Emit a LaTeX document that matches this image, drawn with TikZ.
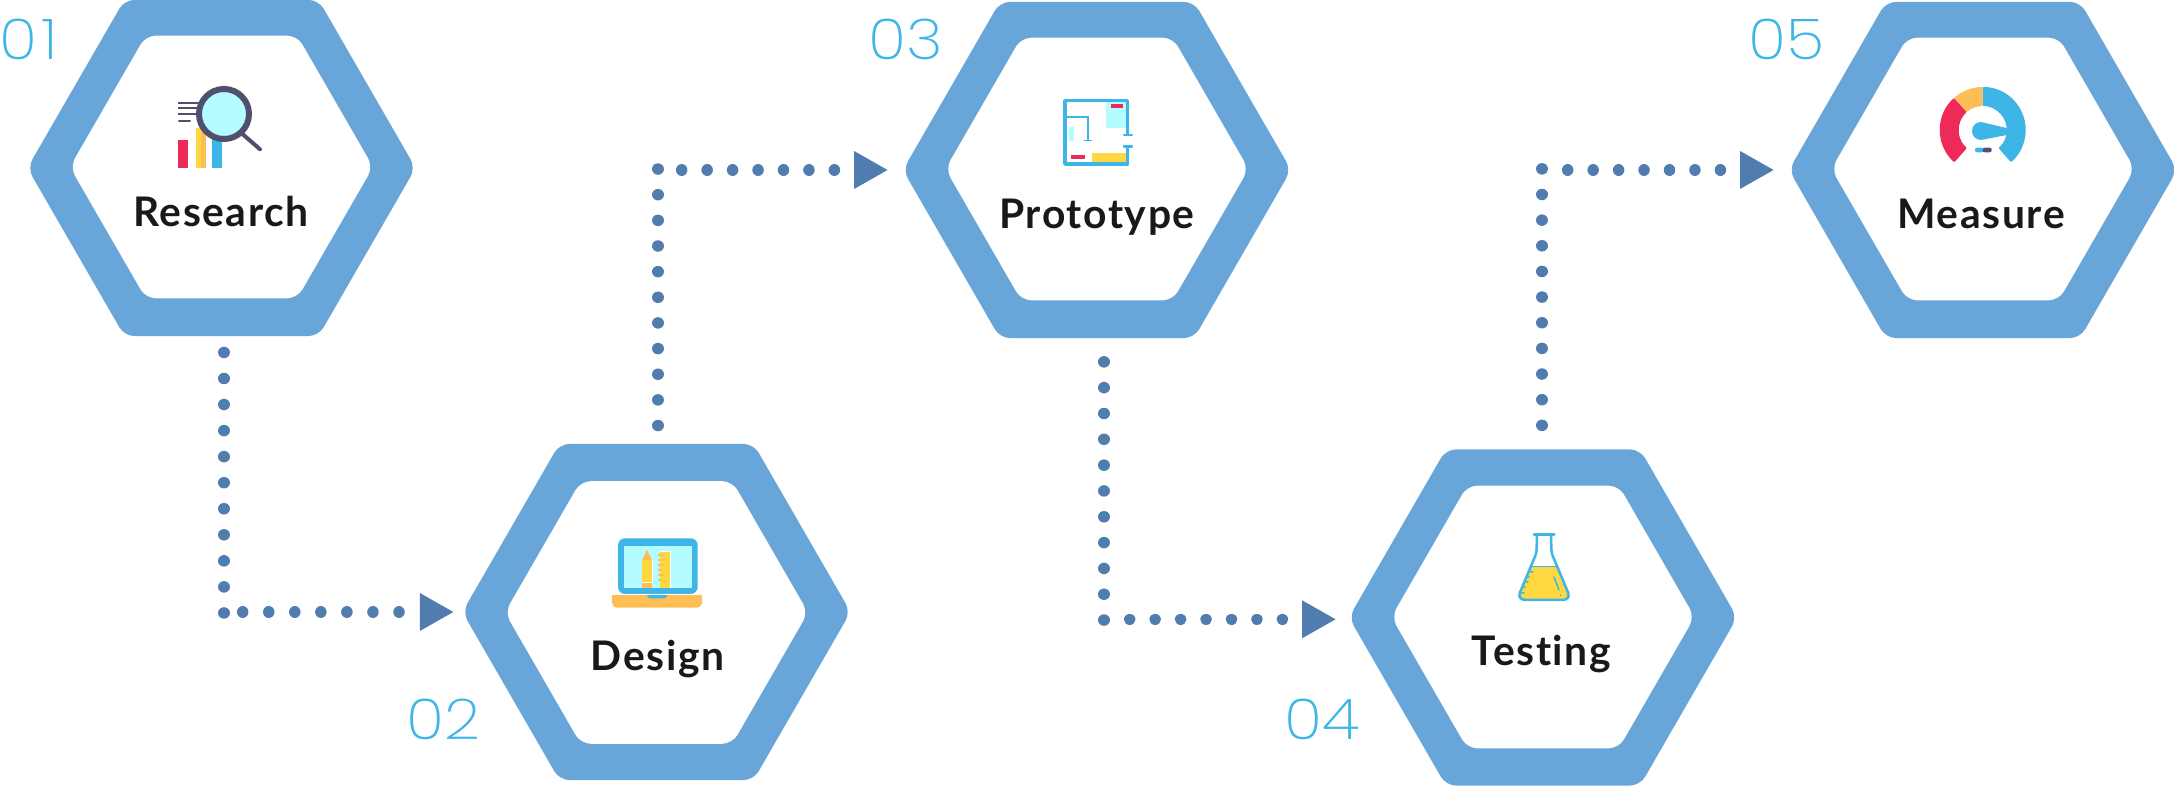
\documentclass[tikz,border=0pt]{standalone}
\usepackage{fontspec}
\setmainfont{Lato}
\newfontfamily\labfont[LetterSpace=4,Ligatures=NoCommon,UprightFont=*-Bold]{Lato}
\newfontfamily\numfont[FakeStretch=1.12]{Poppins ExtraLight}
\usetikzlibrary{shapes.geometric,arrows.meta,calc}
\definecolor{hexblue}{HTML}{68A6DA}
\definecolor{dotblue}{HTML}{507CB0}
\definecolor{sky}{HTML}{3DB5E6}
\definecolor{aqua}{HTML}{B4FCFF}
\definecolor{dark}{HTML}{50506E}
\definecolor{rose}{HTML}{EE2A58}
\definecolor{amber}{HTML}{FFBE55}
\definecolor{sun}{HTML}{FFD740}
\tikzset{
  hexouter/.style={regular polygon,regular polygon sides=6,fill=hexblue,minimum size=3.88cm,inner sep=0pt,outer sep=0pt,rounded corners=0.10cm},
  hexinner/.style={regular polygon,regular polygon sides=6,fill=white,minimum size=3.03cm,inner sep=0pt,outer sep=0pt,rounded corners=0.10cm},
  steplabel/.style={anchor=base,inner sep=0pt,text=black!90,font=\labfont\fontsize{11.6pt}{14pt}\selectfont},
  numlabel/.style={anchor=base west,inner sep=0pt,text=sky,font=\numfont\fontsize{16pt}{20pt}\selectfont},
  dotline/.style={draw=dotblue,line width=0.115cm,line cap=round,dash pattern=on 0.01pt off #1},
  dotarrow/.style={dotline=#1,-{Triangle[length=0.335cm,width=0.38cm,line width=0pt,round=false]}},
}
\begin{document}
\begin{tikzpicture}[x=0.01cm,y=-0.01cm]
\useasboundingbox (0,0) rectangle (2174,786);
% hexagons
\node[hexouter] (h1) at (221.5,168) {};
\node[hexinner] (i1) at (221.5,167) {};
\node[hexouter] (h2) at (656.5,612) {};
\node[hexinner] (i2) at (656.5,612.5) {};
\node[hexouter] (h3) at (1097,170) {};
\node[hexinner] (i3) at (1097,169) {};
\node[hexouter] (h4) at (1543,617.5) {};
\node[hexinner] (i4) at (1543,617) {};
\node[hexouter] (h5) at (1983,170) {};
\node[hexinner] (i5) at (1983,169) {};
% labels
\node[steplabel] (t1) at (221,226.5) {Research};
\node[steplabel] (t2) at (657.5,670.5) {Design};
\node[steplabel] (t3) at (1097,228.5) {Prototype};
\node[steplabel] (t4) at (1541.5,665.8) {Testing};
\node[steplabel] (t5) at (1981,228.5) {Measure};
\node[numlabel] (n1) at (-1,60) {0\kern1pt 1};
\node[numlabel] (n2) at (406,739.5) {02};
\node[numlabel] (n3) at (868,60) {03};
\node[numlabel] (n4) at (1284,739.5) {04};
\node[numlabel] (n5) at (1748,60) {05};
% connectors
\coordinate (a1) at ($(h1.south)+(2.5,16.3)$);
\coordinate (b1) at (a1 |- h2.west);
\draw[dotline=0.26cm] (a1) -- ($(b1)+(0,1)$);
\draw[dotarrow=0.26cm] ($(b1)+(18.7,0)$) -- ($(h2.west)+(-9,0)$);
\coordinate (a2) at ($(h2.north)+(1.5,-18.3)$);
\coordinate (b2) at (a2 |- h3.west);
\draw[dotline=0.256cm] (a2) -- ($(b2)+(0,-1.5)$);
\draw[dotarrow=0.254cm] ($(b2)+(23.7,0)$) -- ($(h3.west)+(-15.3,0)$);
\coordinate (a3) at ($(h3.south)+(7,23.7)$);
\coordinate (b3) at ($(a3 |- h4.west)+(0,1.8)$);
\draw[dotline=0.2577cm] (a3) -- ($(b3)+(0,1)$);
\draw[dotarrow=0.254cm] ($(b3)+(25.7,0)$) -- ($(h4.west)+(-13.3,1.8)$);
\coordinate (a4) at ($(h4.north)+(-1,-24)$);
\coordinate (b4) at (a4 |- h5.west);
\draw[dotline=0.256cm] (a4) -- ($(b4)+(0,-2)$);
\draw[dotarrow=0.254cm] ($(b4)+(25.7,0)$) -- ($(h5.west)+(-15.3,0)$);
% research icon
\draw[dark,line width=0.02cm] (178.3,103)--(203,103) (178.3,108.3)--(203,108.3) (178.3,114)--(203,114);
\draw[dark,line width=0.02cm,line cap=round] (179,120.7)--(190,120.7);
\fill[rose] (178,140) rectangle (188,167.7);
\fill[sun] (196,127.7) rectangle (201,167.7);
\fill[amber] (201,127.7) rectangle (206,167.7);
\fill[sky] (212,135) rectangle (222,167.7);
\draw[dark,line width=0.06cm,fill=aqua] (224,114) circle (25);
\draw[dark,line width=0.04cm,line cap=round] (243,134.5)--(260,149.3);
% laptop icon
\fill[sky,rounded corners=0.07cm] (618,594) -- (618,538.3) -- (697.7,538.3) -- (697.7,594) -- cycle;
\fill[aqua] (624,546) rectangle (691.7,588.3);
\fill[amber,rounded corners=0.05cm] (612,594) -- (612,607.7) -- (702,607.7) -- (702,594) -- cycle;
\fill[amber] (612,594) rectangle (702,600);
\fill[sky,rounded corners=0.02cm] (646.7,594) -- (648,598.5) -- (666,598.5) -- (668,594) -- cycle;
\draw[white,line width=0.007cm] (646,594)--(702,594) (612,594)--(646,594);
\fill[amber] (642,560) -- (647,550) -- (652,560) -- cycle;
\fill[sun] (642,560) rectangle (652,582);
\fill[amber] (642,583.5) rectangle (652,588);
\draw[white,line width=0.01cm] (652.5,560)--(652.5,583)--(642,583);
\fill[sun] (660,552.3) rectangle (670,588);
\draw[white,line width=0.01cm] (660,552)--(670.5,552)--(670.5,588);
\draw[amber,line width=0.012cm,line cap=round] (658.5,555)--(663.5,555) (658.5,560)--(661.5,560) (658.5,565)--(663.5,565) (658.5,570)--(661.5,570) (658.5,575)--(663.5,575) (658.5,580)--(661.5,580);
% prototype icon
\fill[aqua] (1105.7,102.3) rectangle (1126,128.3);
\fill[aqua] (1069,126.7) rectangle (1073.7,141);
\fill[rose] (1110.7,104) rectangle (1123,107.7);
\fill[rose] (1071,155) rectangle (1085,159.3);
\fill[sun] (1092.3,153.3) rectangle (1126,162.3);
\draw[sky,line width=0.035cm,line join=round] (1127.7,135) -- (1127.7,100.7) -- (1065,100.7) -- (1065,164) -- (1127.7,164) -- (1127.7,146.7);
\draw[sky,line width=0.025cm,line cap=round] (1124,135)--(1132,135) (1124,146.7)--(1132,146.7);
\draw[sky,line width=0.02cm] (1065,117.3)--(1087.7,117.3)--(1087.7,140);
\draw[sky,line width=0.015cm,line cap=round] (1084,140.5)--(1091.5,140.5);
% flask icon
\fill[sun] (1530.5,566.7) -- (1557.5,566.7) -- (1569,595) -- (1564,600) -- (1524,600) -- (1519,595) -- cycle;
\draw[sky,line width=0.025cm,line join=round,rounded corners=0.03cm] (1537,535.5) -- (1536.5,553) -- (1518.5,596) -- (1522,600) -- (1566,600) -- (1569.5,596) -- (1551.5,553) -- (1551,535.5);
\draw[sky,line width=0.03cm,line cap=round] (1534,534.5)--(1554,534.5);
\draw[sky,line width=0.01cm] (1530.5,566.7)--(1557.5,566.7);
\draw[sky,line width=0.015cm,line cap=round] (1530,572)--(1533,572) (1527,577)--(1529,577) (1525,582)--(1528,582) (1523,587)--(1525,587) (1521,593)--(1524,593) (1554,577)--(1559,590) (1560.5,595)--(1560.7,595.5);
% gauge icon
\begin{scope}[shift={(1982.7,130)},y=0.01cm]
\fill[sky,rounded corners=0.01cm] (90:43) arc[start angle=90,end angle=-48.8,radius=43] -- (-48.8:24) arc[start angle=-48.8,end angle=90,radius=24] -- cycle;
\fill[amber] (90:43) arc[start angle=90,end angle=132,radius=43] -- (132:24) arc[start angle=132,end angle=90,radius=24] -- cycle;
\fill[rose,rounded corners=0.01cm] (132:43) arc[start angle=132,end angle=228.8,radius=43] -- (228.8:24) arc[start angle=228.8,end angle=132,radius=24] -- cycle;
\fill[sky] (-1.7,8) arc[start angle=90,end angle=270,radius=9] -- (24.3,-5) -- (25,1.7) -- cycle;
\fill[sky,rounded corners=0.02cm] (-7.7,-17.7) rectangle (1,-22.3);
\fill[dark,rounded corners=0.02cm] (0,-17.7) rectangle (9,-22.3);
\end{scope}
\end{tikzpicture}
\end{document}
